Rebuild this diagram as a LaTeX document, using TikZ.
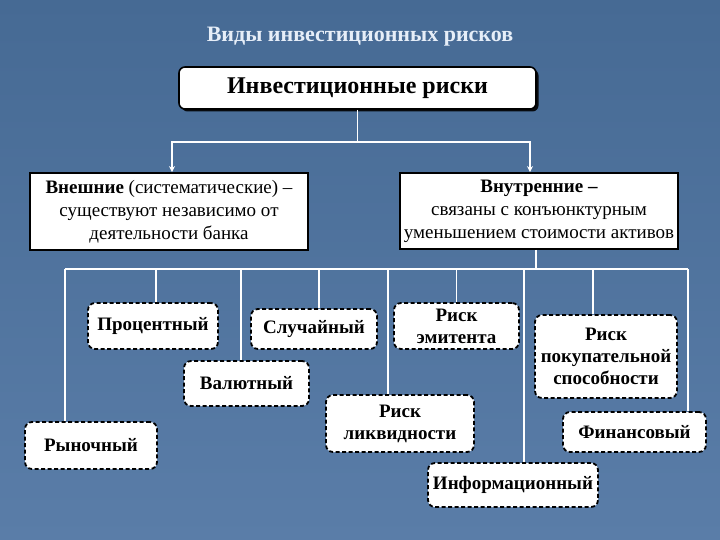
\documentclass[tikz,border=0pt]{standalone}
\usepackage{fontspec}
\setmainfont{Liberation Serif}
\usetikzlibrary{arrows.meta,shadows}
\definecolor{bgtop}{HTML}{466A94}
\definecolor{bgbot}{HTML}{5A7DA8}
\definecolor{titlecol}{HTML}{E6EEF8}

\begin{document}
\begin{tikzpicture}[
        x=1pt, y=-1pt,
        every node/.style={font=\fontsize{19}{22}\selectfont\bfseries, inner sep=0pt, align=center},
        wire/.style={draw=white, line width=1.6pt},
        arr/.style={-{Stealth[length=6pt, width=6pt]}},
        rootbox/.style={draw=black, line width=1.6pt, fill=white, rounded corners=6pt,
            drop shadow={shadow xshift=2.5pt, shadow yshift=-2.5pt, opacity=0.9, fill=black}},
        groupbox/.style={draw=black, line width=1.8pt, fill=white,
            font=\fontsize{19}{23}\selectfont},
        riskbox/.style={draw=black, line width=1.8pt, dash pattern=on 4pt off 2.5pt,
            rounded corners=7pt, fill=white}
    ]
    % фон
    \shade[top color=bgtop, bottom color=bgbot] (0,0) rectangle (720,540);
    \useasboundingbox (0,0) rectangle (720,540);

    \node[text=titlecol, font=\fontsize{22}{24}\selectfont\bfseries] (title) at (360,37)
    {Виды инвестиционных рисков};

    % =============== верхний уровень ===============
    \node[rootbox, minimum width=357, minimum height=42, font=\fontsize{24}{26}\selectfont\bfseries]
    (root) at (357.5,88) {Инвестиционные риски};

    \node[groupbox, minimum width=278, minimum height=77] (ext) at (169,211.5)
    {\textbf{Внешние} (систематические) –\\существуют независимо от\\деятельности банка};
    \node[groupbox, minimum width=278, minimum height=76] (int) at (539,211)
    {\textbf{Внутренние –}\\связаны с конъюнктурным\\уменьшением стоимости активов};

    \coordinate (bus1) at (0,142);
    \draw[wire] (root.south) -- (root.south |- bus1);
    \draw[wire, arr] (root.south |- bus1) -| ([xshift=3]ext.north);
    \draw[wire, arr] (root.south |- bus1) -| ([xshift=-9]int.north);

    % =============== виды риска ===============
    \node[riskbox, minimum width=132, minimum height=47] (mkt) at (91,445.5) {Рыночный};
    \node[riskbox, minimum width=130, minimum height=46] (pct) at (153,326) {Процентный};
    \node[riskbox, minimum width=125, minimum height=45] (cur) at (246.5,383.5) {Валютный};
    \node[riskbox, minimum width=126, minimum height=40] (rnd) at (314,329) {Случайный};
    \node[riskbox, minimum width=148, minimum height=57] (liq) at (400,423.5) {Риск\\ликвидности};
    \node[riskbox, minimum width=125, minimum height=46] (emi) at (456.5,326) {Риск\\эмитента};
    \node[riskbox, minimum width=170, minimum height=44] (inf) at (513,485) {Информационный};
    \node[riskbox, minimum width=142, minimum height=83] (pur) at (606,356.5)
    {Риск\\покупательной\\способности};
    \node[riskbox, minimum width=143, minimum height=40] (fin) at (634.5,432) {Финансовый};

    \coordinate (bus2) at (0,269);
    \draw[wire] ([xshift=-3]int.south) -- ([xshift=-3]int.south |- bus2);
    \draw[wire] ([xshift=-26]mkt.north |- bus2) -- ([xshift=53.5]fin.north |- bus2);
    \foreach \n/\dx in {mkt/-26, pct/3, cur/-5.5, rnd/5, liq/-12, emi/0, inf/11, pur/-13, fin/53.5}
    \draw[wire] ([xshift=\dx]\n.north |- bus2) -- ([xshift=\dx]\n.north);
\end{tikzpicture}
\end{document}
